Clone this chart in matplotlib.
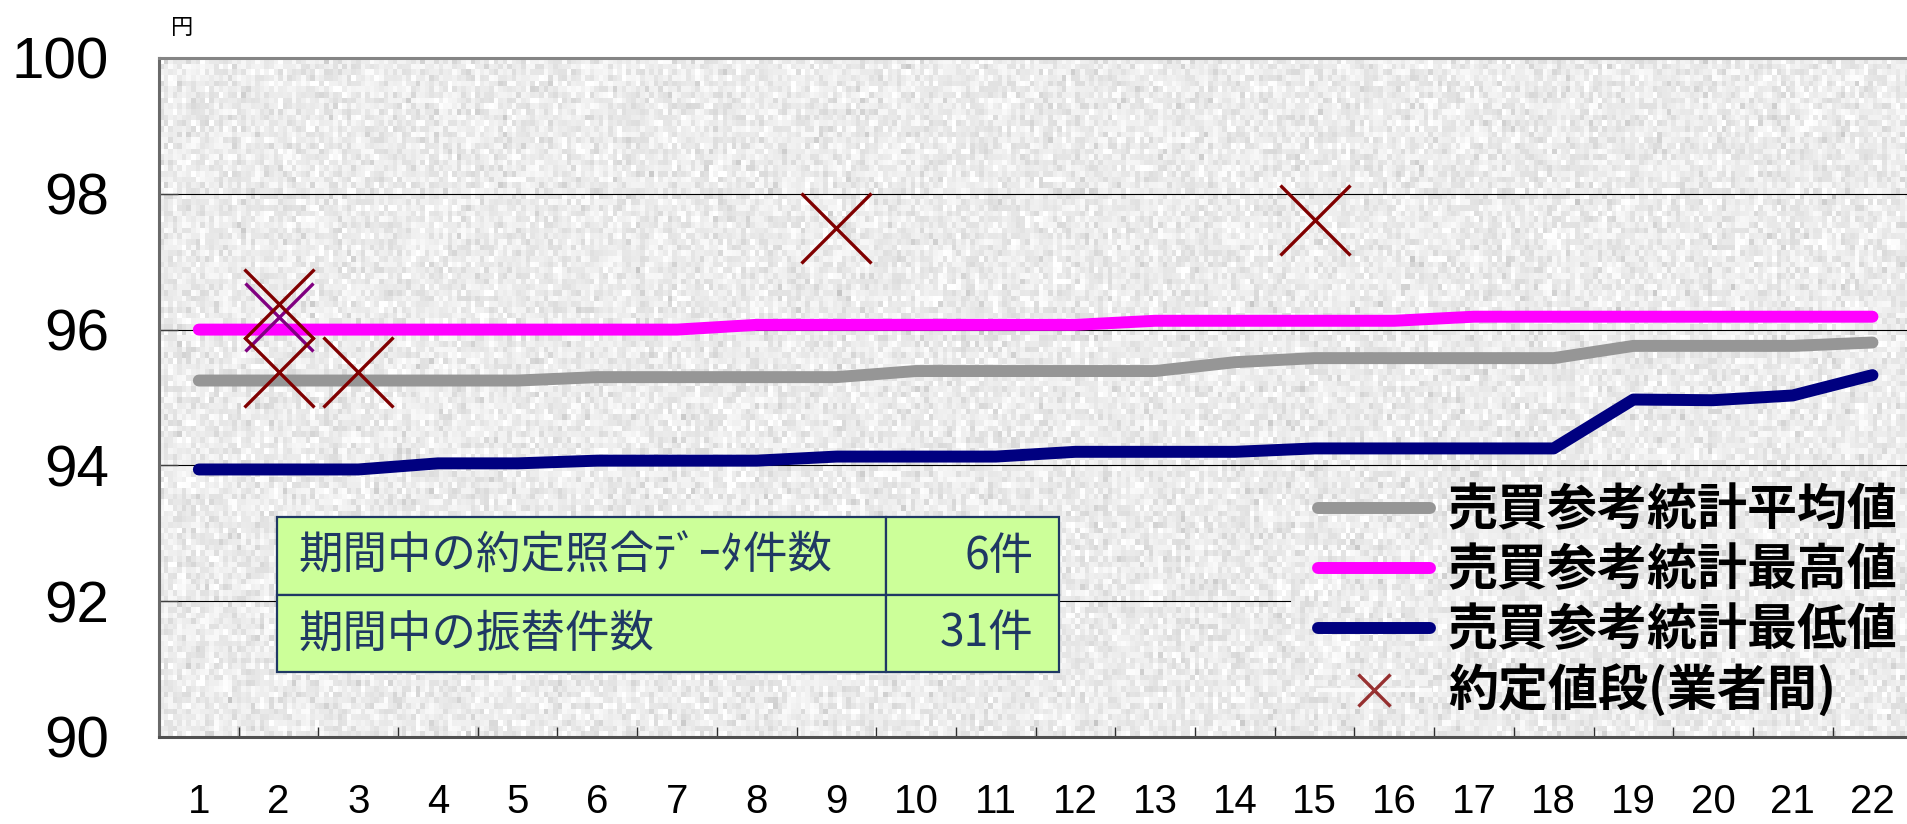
import numpy as np
import matplotlib

matplotlib.use("Agg")
import matplotlib.pyplot as plt
from matplotlib.lines import Line2D

# --- data ---
days = list(range(1, 23))
avg_price = [95.25, 95.25, 95.25, 95.25, 95.25, 95.30, 95.30, 95.30, 95.30, 95.39, 95.39,
             95.39, 95.39, 95.52, 95.58, 95.58, 95.58, 95.58, 95.76, 95.76, 95.76, 95.81]
max_price = [96.00, 96.00, 96.00, 96.00, 96.00, 96.00, 96.00, 96.07, 96.07, 96.07, 96.07,
             96.07, 96.13, 96.13, 96.13, 96.13, 96.19, 96.19, 96.19, 96.19, 96.19, 96.19]
min_price = [93.94, 93.94, 93.94, 94.03, 94.03, 94.07, 94.07, 94.07, 94.13, 94.13, 94.13,
             94.20, 94.20, 94.20, 94.25, 94.25, 94.25, 94.25, 94.97, 94.96, 95.03, 95.33]
trade_x = [2, 2, 3, 9, 15]
trade_y = [96.37, 95.37, 95.37, 97.50, 97.61]
extra_x = [2]
extra_y = [96.19]

series_labels = ["売買参考統計平均値", "売買参考統計最高値", "売買参考統計最低値", "約定値段(業者間)"]
table_rows = ["期間中の約定照合ﾃﾞｰﾀ件数", "期間中の振替件数"]
table_counts = ["6件", "31件"]
y_ticks = [90, 92, 94, 96, 98, 100]

CJK = ["Noto Sans CJK JP", "DejaVu Sans"]
SANS = ["Liberation Sans", "DejaVu Sans"]
GRAY, MAGENTA, NAVY = "#969696", "#ff00ff", "#000080"
DARKRED, PURPLE, INK = "#800000", "#800080", "#1f3864"

fig = plt.figure(figsize=(19.08, 8.24), dpi=100)
fig.patch.set_facecolor("white")
# axes runs past the right edge of the picture, like the cropped original
ax = fig.add_axes([159 / 1908, 1 - 737 / 824, 1833 / 1908, 679 / 824])
ax.set_xlim(0.5, 23.5)
ax.set_ylim(90, 100)

# newsprint-like background texture
rng = np.random.default_rng(3)
tex = np.clip(rng.normal(0.925, 0.04, size=(120, 400)), 0.76, 1.0)
ax.imshow(tex, cmap="gray", vmin=0, vmax=1, extent=(0.5, 23.5, 90, 100),
          aspect="auto", interpolation="nearest", zorder=0)

# gridlines (the 92 one is hidden behind the legend box on the right)
for yv in y_ticks[2:-1]:
    ax.axhline(yv, color="black", lw=0.8, zorder=1)
ax.axhline(92, xmax=0.617, color="black", lw=0.8, zorder=1)

lw = 8.6
ax.plot(days, avg_price, color=GRAY, lw=lw, solid_capstyle="round", solid_joinstyle="round", zorder=3)
ax.plot(days, max_price, color=MAGENTA, lw=lw, solid_capstyle="round", solid_joinstyle="round", zorder=3)
ax.plot(days, min_price, color=NAVY, lw=lw, solid_capstyle="round", solid_joinstyle="round", zorder=3)
ax.plot(extra_x, extra_y, ls="none", marker="x", ms=49, mew=2.4, mec=PURPLE, zorder=4)
ax.plot(trade_x, trade_y, ls="none", marker="x", ms=50, mew=2.4, mec=DARKRED, zorder=5)

# axes styling
for side in ("left", "top", "bottom"):
    ax.spines[side].set_linewidth(2.2)
ax.spines["left"].set_color("#6a6a6a")
ax.spines["top"].set_color("#858585")
ax.spines["bottom"].set_color("#505050")
ax.spines["right"].set_visible(False)

ax.set_yticks(y_ticks)
ax.set_yticklabels([str(v) for v in y_ticks], family=SANS, fontsize=42)
ax.tick_params(axis="y", direction="in", length=14, width=1, color="#404040", pad=36)

ax.set_xticks(days)
ax.set_xticklabels([str(d) for d in days], family=SANS, fontsize=29)
ax.set_xticks(np.arange(1.5, 23.5, 1), minor=True)
ax.tick_params(axis="x", which="major", length=0, pad=33)
ax.tick_params(axis="x", which="minor", direction="in", length=7, width=1, color="#303030")

fig.text(182 / 1908, 1 - 28 / 824, "円", family=CJK, fontsize=16, ha="center", va="center")

# summary table
tbl = ax.table(cellText=[[r, c] for r, c in zip(table_rows, table_counts)],
               colWidths=[609, 173], cellLoc="left",
               bbox=[118 / 1833, 65 / 679, 782 / 1833, 155 / 679], zorder=6)
tbl.auto_set_font_size(False)
tbl.set_fontsize(32)
for (r, c), cell in tbl.get_celld().items():
    cell.set_facecolor("#ccff99")
    cell.set_edgecolor(INK)
    cell.set_linewidth(1.6)
    cell.get_text().set_color(INK)
    cell.get_text().set_fontfamily(CJK)
    if c == 1:
        cell.get_text().set_ha("right")
        cell.PAD = 0.145
    else:
        cell.PAD = 0.035

handles = [
    Line2D([], [], color=GRAY, lw=lw, solid_capstyle="round"),
    Line2D([], [], color=MAGENTA, lw=lw, solid_capstyle="round"),
    Line2D([], [], color=NAVY, lw=lw, solid_capstyle="round"),
    Line2D([], [], color="white", lw=3, alpha=0.8, marker="x", ms=23, mew=2.4, mec=DARKRED),
]
fig.legend(handles, series_labels, loc="upper left", bbox_to_anchor=(1318 / 1908, 1 - 485 / 824),
           frameon=False, borderpad=0, borderaxespad=0, handlelength=2.24, handletextpad=0.36,
           labelspacing=0.18, prop={"family": CJK, "weight": "bold", "size": 36})

fig.savefig("out.png", dpi=100)
